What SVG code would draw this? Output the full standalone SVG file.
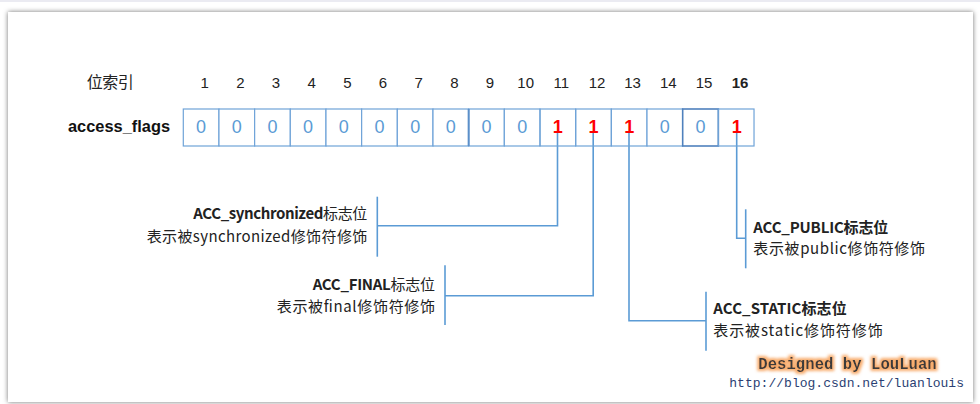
<svg xmlns="http://www.w3.org/2000/svg" width="980" height="404" viewBox="0 0 980 404">
<defs>
<filter id="shadow" x="-5%" y="-5%" width="110%" height="110%">
<feGaussianBlur in="SourceAlpha" stdDeviation="2.4" result="b"/>
<feFlood flood-color="#000" flood-opacity="0.55"/>
<feComposite in2="b" operator="in" result="s"/>
<feMerge><feMergeNode in="s"/><feMergeNode in="SourceGraphic"/></feMerge>
</filter>
<filter id="glow" x="-10%" y="-40%" width="120%" height="180%">
<feMorphology in="SourceAlpha" operator="dilate" radius="1.6" result="d"/>
<feGaussianBlur in="d" stdDeviation="1.6" result="b"/>
<feFlood flood-color="#f7a45e" flood-opacity="0.9"/>
<feComposite in2="b" operator="in" result="g"/>
<feMerge><feMergeNode in="g"/><feMergeNode in="SourceGraphic"/></feMerge>
</filter>
</defs>
<style>
.cell{fill:#fff;stroke:#6fa3d8;stroke-width:1.2}
.zero{font-family:"Liberation Sans",Arial,sans-serif;font-size:18px;fill:#5b9bd5;text-anchor:middle}
.one{font-family:"Liberation Sans",Arial,sans-serif;font-size:18px;font-weight:bold;fill:#ff0000;text-anchor:middle}
.idx{font-family:"Liberation Sans",Arial,sans-serif;font-size:15px;fill:#222;text-anchor:middle}
.lbl{font-family:"Noto Sans CJK SC",sans-serif;font-size:15px;fill:#222}
.b{font-weight:bold}
.n{font-weight:normal}
.conn{fill:none;stroke:#5b9bd5;stroke-width:1.6}
</style>
<rect x="0" y="0" width="980" height="404" fill="#fff"/>
<rect x="0" y="0" width="980" height="2" fill="#ebebf2"/>
<rect x="8" y="12" width="965" height="390" fill="#fff" filter="url(#shadow)"/>

<g id="header">
<text x="86.7" y="87.5" style="font-family:'Noto Sans CJK SC',sans-serif;font-size:16px;fill:#222" textLength="47">位索引</text>
<g class="idx">
<text x="204.6" y="88">1</text><text x="240.3" y="88">2</text><text x="276" y="88">3</text><text x="311.6" y="88">4</text>
<text x="347.3" y="88">5</text><text x="383" y="88">6</text><text x="418.6" y="88">7</text><text x="454.3" y="88">8</text>
<text x="490" y="88">9</text><text x="525.7" y="88">10</text><text x="561.3" y="88">11</text><text x="597" y="88">12</text>
<text x="632.6" y="88">13</text><text x="668.3" y="88">14</text><text x="704" y="88">15</text><text x="740" y="88" font-weight="bold">16</text>
</g>
<text x="68" y="132" style="font-family:'Liberation Sans',Arial,sans-serif;font-size:16px;font-weight:bold;fill:#111" textLength="102" lengthAdjust="spacingAndGlyphs">access_flags</text>
</g>

<g id="connectors">
<polyline class="conn" points="557.5,133 557.5,225.7 377.3,225.7"/>
<line class="conn" x1="377.3" y1="196.7" x2="377.3" y2="256.7"/>
<polyline class="conn" points="593.2,133 593.2,295.7 445,295.7"/>
<line class="conn" x1="445" y1="265.3" x2="445" y2="325"/>
<polyline class="conn" points="629,133 629,320.7 706,320.7"/>
<line class="conn" x1="706" y1="291.7" x2="706" y2="350.7"/>
<polyline class="conn" points="736.7,133 736.7,238.3 745.7,238.3"/>
<line class="conn" x1="745.7" y1="209.3" x2="745.7" y2="268.3"/>
</g>

<g id="flags">
<rect class="cell" x="183.3" y="109" width="35.67" height="37"/>
<rect class="cell" x="218.97" y="109" width="35.67" height="37"/>
<rect class="cell" x="254.64" y="109" width="35.67" height="37"/>
<rect class="cell" x="290.31" y="109" width="35.67" height="37"/>
<rect class="cell" x="325.98" y="109" width="35.67" height="37"/>
<rect class="cell" x="361.65" y="109" width="35.67" height="37"/>
<rect class="cell" x="397.32" y="109" width="35.67" height="37"/>
<rect class="cell" x="432.99" y="109" width="35.67" height="37"/>
<rect class="cell" x="468.66" y="109" width="35.67" height="37"/>
<rect class="cell" x="504.33" y="109" width="35.67" height="37"/>
<rect class="cell" x="540" y="109" width="35.67" height="37" style="fill:none"/>
<rect class="cell" x="575.67" y="109" width="35.67" height="37" style="fill:none"/>
<rect class="cell" x="611.34" y="109" width="35.67" height="37" style="fill:none"/>
<rect class="cell" x="647.01" y="109" width="35.67" height="37"/>
<rect class="cell" x="682.68" y="109" width="35.67" height="37" style="stroke:#4f81bd;stroke-width:1.6"/>
<rect class="cell" x="718.35" y="109" width="35.67" height="37" style="fill:none"/>
<line x1="468.66" y1="109" x2="468.66" y2="146" stroke="#5b8fc9" stroke-width="2"/>
<g class="zero">
<text x="201.1" y="133">0</text><text x="236.8" y="133">0</text><text x="272.5" y="133">0</text><text x="308.1" y="133">0</text>
<text x="343.8" y="133">0</text><text x="379.5" y="133">0</text><text x="415.2" y="133">0</text><text x="450.8" y="133">0</text>
<text x="486.5" y="133">0</text><text x="522.2" y="133">0</text><text x="664.8" y="133">0</text><text x="700.5" y="133">0</text>
</g>
<g class="one">
<text x="557.8" y="133">1</text><text x="593.5" y="133">1</text><text x="629.2" y="133">1</text><text x="736.8" y="133">1</text>
</g>
</g>

<g id="label-synchronized">
<text class="lbl b" x="193.3" y="219" textLength="174">ACC_synchronized<tspan class="n">标志位</tspan></text>
<text class="lbl" x="146.7" y="241.5" textLength="220.6">表示被synchronized修饰符修饰</text>
</g>
<g id="label-final">
<text class="lbl b" x="312.7" y="290" textLength="122.3">ACC_FINAL<tspan class="n">标志位</tspan></text>
<text class="lbl" x="276.7" y="312" textLength="158.3">表示被final修饰符修饰</text>
</g>
<g id="label-public">
<text class="lbl b" x="753.3" y="232.5" textLength="135">ACC_PUBLIC标志位</text>
<text class="lbl" x="753.3" y="254" textLength="171.7">表示被public修饰符修饰</text>
</g>
<g id="label-static">
<text class="lbl b" x="713.3" y="314" textLength="133.4">ACC_STATIC标志位</text>
<text class="lbl" x="713.3" y="336" textLength="169.4">表示被static修饰符修饰</text>
</g>

<g id="credit">
<text x="758.3" y="369" filter="url(#glow)" style="font-family:'Liberation Mono','Courier New',monospace;font-size:15.6px;font-weight:bold;fill:#3a3a3a" textLength="178.4">Designed by LouLuan</text>
<text x="729.3" y="387" style="font-family:'Liberation Mono','Courier New',monospace;font-size:13px;fill:#2b3f73" textLength="234.7">http://blog.csdn.net/luanlouis</text>
</g>
</svg>
